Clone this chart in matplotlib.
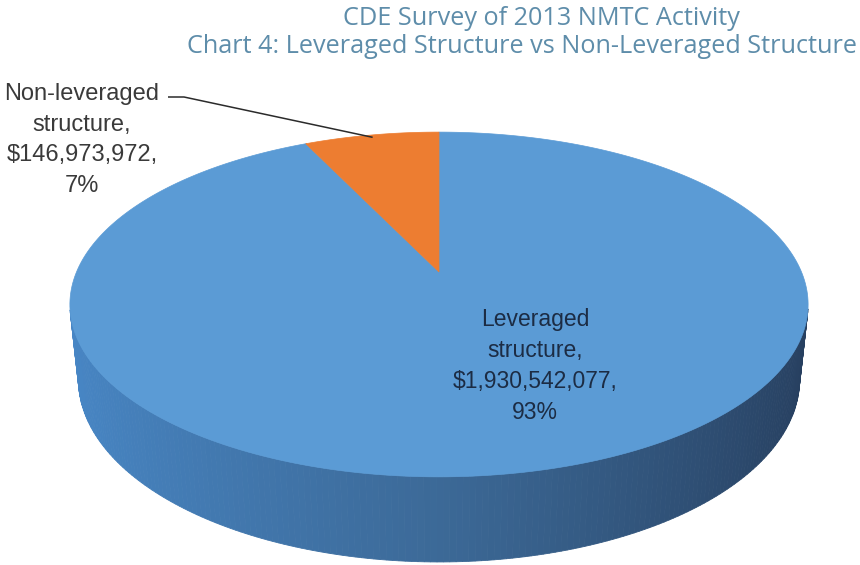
import numpy as np
import matplotlib
matplotlib.use("Agg")
import matplotlib.pyplot as plt
from matplotlib.patches import Polygon

# ---------------- data ----------------
categories = ["Leveraged structure", "Non-leveraged structure"]
values = [1930542077, 146973972]
colors = ["#5B9BD5", "#ED7D31"]
title_lines = ["CDE Survey of 2013 NMTC Activity",
               "Chart 4: Leveraged Structure vs Non-Leveraged Structure"]

# ---------------- 3D pie geometry (perspective) ----------------
CX, CY = 439.0, 272.0      # screen position of pie centre (pixels)
S = 362.5                  # screen scale of radius
ELEV = np.radians(27.3)    # camera elevation
RD = 0.212                 # radius / camera distance (perspective)
THICK = 0.235              # thickness / radius
se, ce = np.sin(ELEV), np.cos(ELEV)


def project(X, Y, Z):
    X, Y, Z = np.asarray(X, float), np.asarray(Y, float), np.asarray(Z, float)
    q = 1 - RD * (Y * se + Z * ce)
    sx = CX + S * X / q
    sy = CY - S * (Y * ce - Z * se) / q
    return sx, sy


# wall shading: factor per channel relative to base colour, left -> mid -> right
SHADE_LEFT = np.array([0.79, 0.87, 0.93])
SHADE_MID = np.array([0.66, 0.68, 0.71])
SHADE_RIGHT = np.array([0.42, 0.40, 0.44])


def shade(hex_color, X):
    rgb = np.array(matplotlib.colors.to_rgb(hex_color))
    if X <= 0:
        t = -X
        f = SHADE_MID + (SHADE_LEFT - SHADE_MID) * t
    else:
        t = X
        f = SHADE_MID + (SHADE_RIGHT - SHADE_MID) * t
    return tuple(np.clip(rgb * f, 0, 1))


fig = plt.figure(figsize=(8.6, 5.65), dpi=100)
ax = fig.add_axes([0, 0, 1, 1])
ax.set_xlim(0, 860)
ax.set_ylim(565, 0)
ax.axis("off")

total = sum(values)
fracs = [v / total for v in values]
# Excel: first slice starts at 12 o'clock and runs clockwise.
# phi = 270deg is the far (top) point; clockwise on screen = increasing phi.
start = np.radians(270.0)
slices = []
a0 = start
for fr in fracs:
    a1 = a0 + 2 * np.pi * fr
    slices.append((a0, a1))
    a0 = a1

vis_lim = RD / ce  # outer wall faces camera when sin(phi) > vis_lim

# side walls (draw first)
for (a0, a1), col in zip(slices, colors):
    phis = np.linspace(a0, a1, 400)
    for p0, p1 in zip(phis[:-1], phis[1:]):
        pm = 0.5 * (p0 + p1)
        if np.sin(pm) <= vis_lim - 0.02:
            continue
        Xs = np.cos([p0, p1, p1, p0])
        Zs = np.sin([p0, p1, p1, p0])
        Ys = np.array([0, 0, -THICK, -THICK])
        sx, sy = project(Xs, Ys, Zs)
        c = shade(col, np.cos(pm))
        ax.add_patch(Polygon(np.column_stack([sx, sy]), closed=True,
                             facecolor=c, edgecolor=c, linewidth=0.6,
                             zorder=1))

# top faces
for (a0, a1), col in zip(slices, colors):
    phis = np.linspace(a0, a1, 300)
    Xs = np.concatenate([[0], np.cos(phis)])
    Zs = np.concatenate([[0], np.sin(phis)])
    sx, sy = project(Xs, np.zeros_like(Xs), Zs)
    ax.add_patch(Polygon(np.column_stack([sx, sy]), closed=True,
                         facecolor=col, edgecolor=col, linewidth=0.5,
                         zorder=2))

# ---------------- labels ----------------
def label_text(name, val, fr):
    w = name.split(" ")
    return f"{w[0]}\n{w[1]},\n${val:,},\n{fr * 100:.0f}%"

lab_font = ["Liberation Sans Narrow", "Liberation Sans", "DejaVu Sans"]

ax.text(535, 366, label_text(categories[0], values[0], fracs[0]),
        ha="center", va="center", fontsize=16.5, color="#1c2c44",
        family=lab_font, linespacing=1.43, zorder=5)

ax.text(82, 140, label_text(categories[1], values[1], fracs[1]),
        ha="center", va="center", fontsize=17, color="#3a3a3a",
        family=lab_font, linespacing=1.52, zorder=5)

# leader line to the non-leveraged slice
mid = 0.5 * (slices[1][0] + slices[1][1])
ex, ey = project(np.cos(mid) * 0.98, 0, np.sin(mid) * 0.98)
ax.plot([168, 184, float(ex)], [97, 97, float(ey)], color="#2b2b2b",
        linewidth=1.1, zorder=6, solid_capstyle="butt")

# ---------------- title ----------------
title_font = ["Open Sans", "DejaVu Sans"]
ax.text(541, 25, title_lines[0], ha="center", va="baseline",
        fontsize=18.2, color="#5E8DAA", family=title_font, zorder=7)
ax.text(522, 53, title_lines[1], ha="center", va="baseline",
        fontsize=18.2, color="#5E8DAA", family=title_font, zorder=7)

fig.savefig("out.png", dpi=100, facecolor="white")
